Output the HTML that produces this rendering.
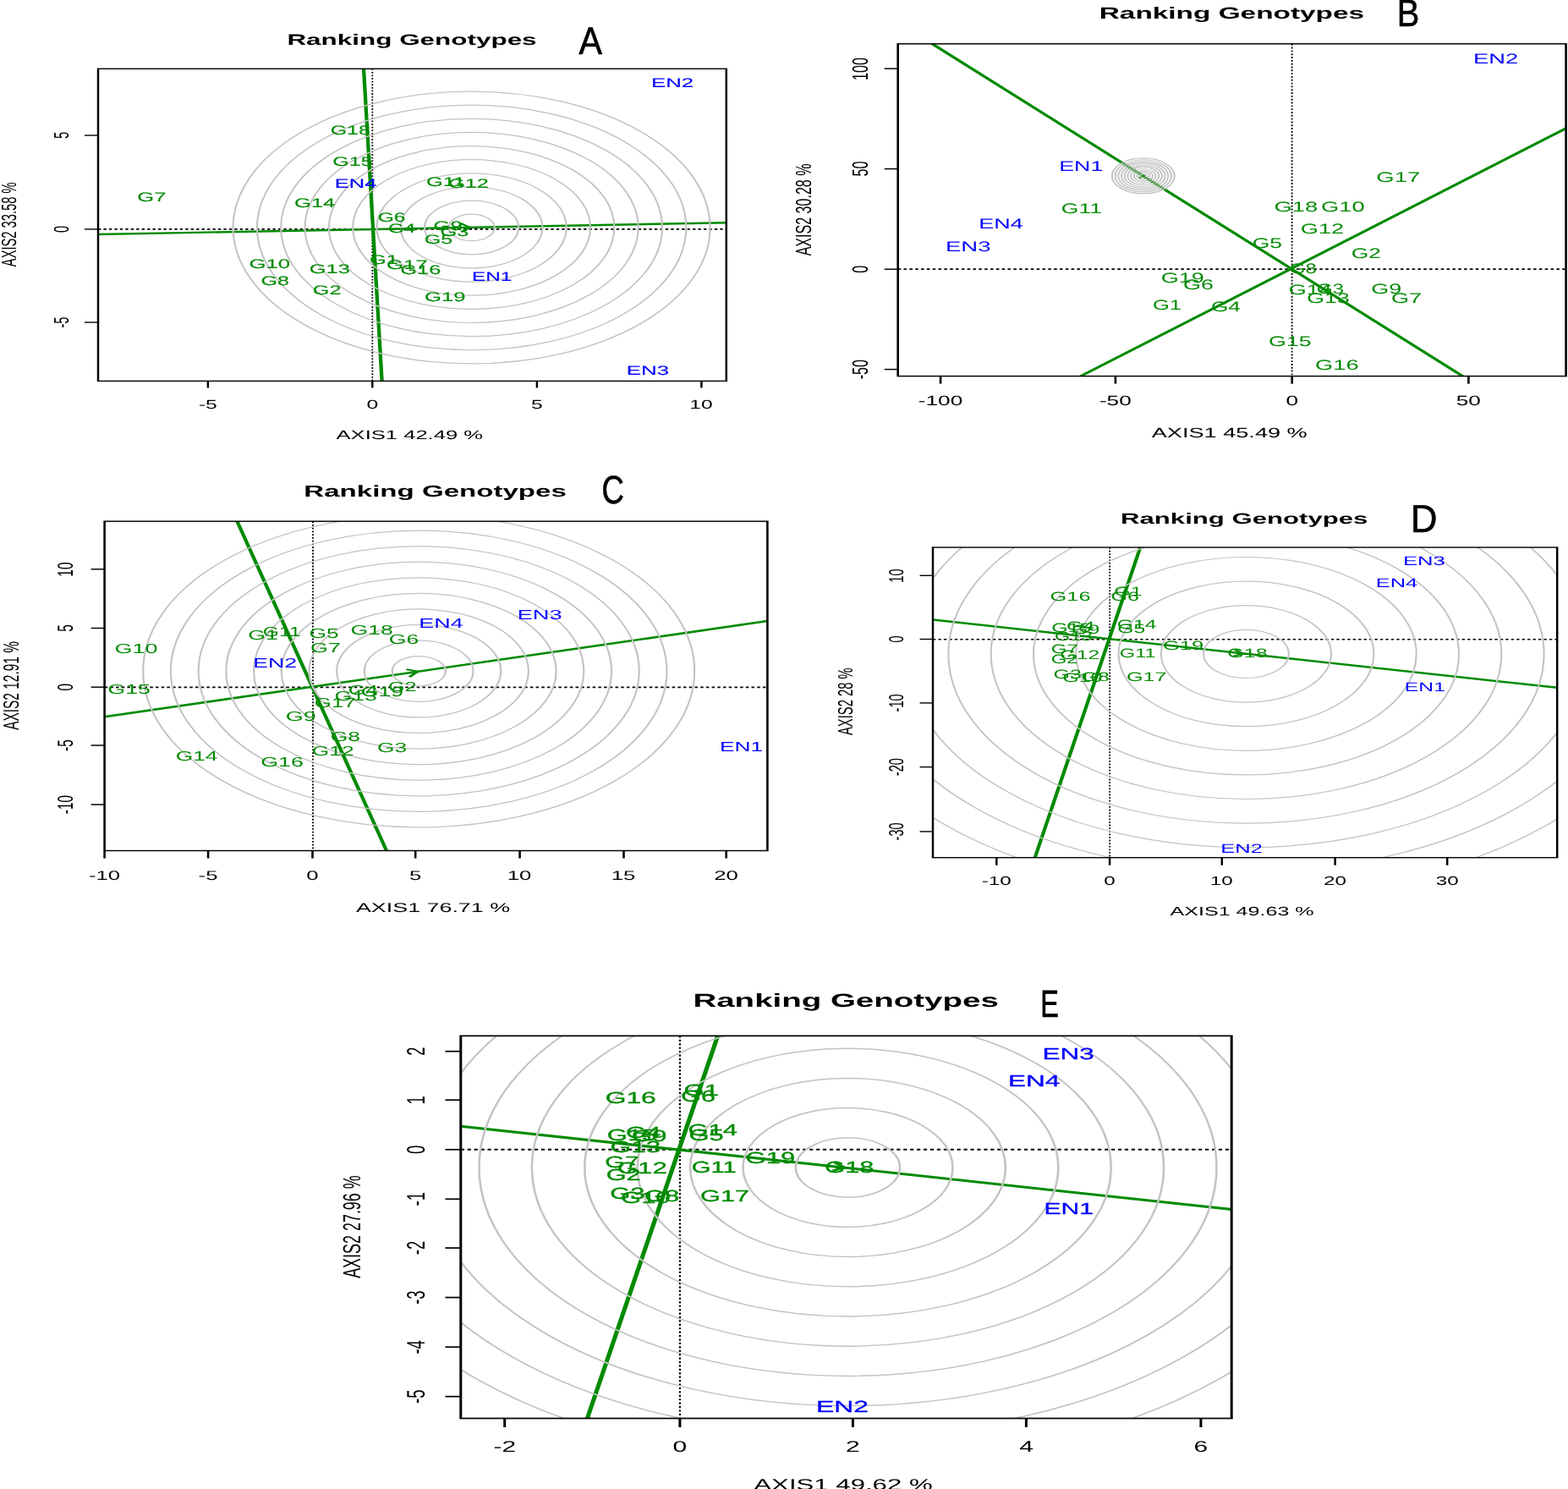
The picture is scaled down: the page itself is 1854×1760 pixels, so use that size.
<!DOCTYPE html>
<html><head><meta charset="utf-8"><title>Ranking Genotypes</title>
<style>html,body{margin:0;padding:0;background:#fff;} svg{display:block;} text{font-family:"Liberation Sans",Arial,sans-serif;text-rendering:geometricPrecision;}</style>
</head><body>
<svg width="1854" height="1760" viewBox="0 0 1854 1760">
<rect width="1854" height="1760" fill="#fff"/>
<clipPath id="cA"><rect x="66.286" y="81.3" width="424.457" height="369.09999999999997"/></clipPath>
<clipPath id="pA"><rect x="116.0" y="81.3" width="742.8" height="369.09999999999997"/></clipPath>
<g clip-path="url(#pA)">
<line x1="116.00" y1="270.90" x2="858.80" y2="270.90" stroke="#000" stroke-width="1.60" stroke-dasharray="3.40 3.05"/>
<line x1="440.30" y1="81.30" x2="440.30" y2="450.40" stroke="#000" stroke-width="1.75" stroke-dasharray="1.80 1.80"/>
</g>
<g transform="scale(1.75 1)">
<g clip-path="url(#cA)">
<line x1="66.286" y1="277.00" x2="490.743" y2="263.20" stroke="#008a00" stroke-width="2.45"/>
<line x1="245.714" y1="81.30" x2="258.057" y2="450.40" stroke="#008a00" stroke-width="2.45"/>
<polyline points="310.971,263.80 317.600,269.00 311.600,273.90" fill="none" stroke="#008a00" stroke-width="1.96" stroke-linejoin="round"/>
<ellipse cx="318.629" cy="268.95" rx="15.549" ry="15.75" fill="none" stroke="#c3c3c3" stroke-width="1.20"/>
<ellipse cx="318.629" cy="268.95" rx="31.726" ry="31.88" fill="none" stroke="#c3c3c3" stroke-width="1.20"/>
<ellipse cx="318.629" cy="268.95" rx="47.903" ry="48.01" fill="none" stroke="#c3c3c3" stroke-width="1.20"/>
<ellipse cx="318.629" cy="268.95" rx="64.080" ry="64.14" fill="none" stroke="#c3c3c3" stroke-width="1.20"/>
<ellipse cx="318.629" cy="268.95" rx="80.257" ry="80.27" fill="none" stroke="#c3c3c3" stroke-width="1.20"/>
<ellipse cx="318.629" cy="268.95" rx="96.434" ry="96.40" fill="none" stroke="#c3c3c3" stroke-width="1.20"/>
<ellipse cx="318.629" cy="268.95" rx="112.611" ry="112.53" fill="none" stroke="#c3c3c3" stroke-width="1.20"/>
<ellipse cx="318.629" cy="268.95" rx="128.789" ry="128.66" fill="none" stroke="#c3c3c3" stroke-width="1.20"/>
<ellipse cx="318.629" cy="268.95" rx="144.966" ry="144.79" fill="none" stroke="#c3c3c3" stroke-width="1.20"/>
<ellipse cx="318.629" cy="268.95" rx="161.143" ry="160.92" fill="none" stroke="#c3c3c3" stroke-width="1.20"/>
</g>
<rect x="66.286" y="81.3" width="424.457" height="369.10" fill="none" stroke="#000" stroke-width="1.40"/>
<line x1="140.514" y1="450.40" x2="140.514" y2="458.40" stroke="#000" stroke-width="1.40"/>
<line x1="251.600" y1="450.40" x2="251.600" y2="458.40" stroke="#000" stroke-width="1.40"/>
<line x1="362.800" y1="450.40" x2="362.800" y2="458.40" stroke="#000" stroke-width="1.40"/>
<line x1="473.943" y1="450.40" x2="473.943" y2="458.40" stroke="#000" stroke-width="1.40"/>
<line x1="57.143" y1="160.00" x2="66.286" y2="160.00" stroke="#000" stroke-width="1.40"/>
<line x1="57.143" y1="270.90" x2="66.286" y2="270.90" stroke="#000" stroke-width="1.40"/>
<line x1="57.143" y1="381.00" x2="66.286" y2="381.00" stroke="#000" stroke-width="1.40"/>
</g>
<text transform="translate(234.89 482.60) scale(1.6752 1)" font-size="14.744" fill="#000">-5</text>
<text transform="translate(433.43 482.60) scale(1.6752 1)" font-size="14.744" fill="#000">0</text>
<text transform="translate(628.06 482.60) scale(1.6752 1)" font-size="14.744" fill="#000">5</text>
<text transform="translate(815.20 482.60) scale(1.6752 1)" font-size="14.744" fill="#000">10</text>
<text transform="translate(81.00 164.09) scale(1.6752 1) rotate(-90)" font-size="14.74" fill="#000">5</text>
<text transform="translate(81.00 275.00) scale(1.6752 1) rotate(-90)" font-size="14.74" fill="#000">0</text>
<text transform="translate(81.00 387.57) scale(1.6752 1) rotate(-90)" font-size="14.74" fill="#000">-5</text>
<text transform="translate(397.55 518.80) scale(1.7357 1)" font-size="14.744" fill="#000">AXIS1 42.49 %</text>
<text transform="translate(19.00 315.13) scale(1.6752 1) rotate(-90)" font-size="14.69" fill="#000">AXIS2 33.58 %</text>
<text transform="translate(339.40 53.30) scale(1.7464 1)" font-size="18.0" fill="#000" font-weight="bold">Ranking Genotypes</text>
<text transform="translate(684.42 63.75) scale(0.9007 1)" font-size="45.71220930232559" fill="#000" stroke="#000" stroke-width="0.70">A</text>
<text transform="translate(162.32 238.40) scale(1.6802 1)" font-size="15.2" fill="#008a00" stroke="#008a00" stroke-width="0.12">G7</text>
<text transform="translate(390.64 159.40) scale(1.6444 1)" font-size="15.2" fill="#008a00" stroke="#008a00" stroke-width="0.12">G18</text>
<text transform="translate(393.34 196.10) scale(1.6467 1)" font-size="15.2" fill="#008a00" stroke="#008a00" stroke-width="0.12">G15</text>
<text transform="translate(395.81 221.60) scale(1.6752 1)" font-size="15.2" fill="#0000ff" stroke="#0000ff" stroke-width="0.12">EN4</text>
<text transform="translate(348.01 244.50) scale(1.6824 1)" font-size="15.2" fill="#008a00" stroke="#008a00" stroke-width="0.12">G14</text>
<text transform="translate(446.66 261.70) scale(1.6185 1)" font-size="15.2" fill="#008a00" stroke="#008a00" stroke-width="0.12">G6</text>
<text transform="translate(459.09 275.00) scale(1.5839 1)" font-size="15.2" fill="#008a00" stroke="#008a00" stroke-width="0.12">G4</text>
<text transform="translate(503.92 220.10) scale(1.6752 1)" font-size="15.2" fill="#008a00" stroke="#008a00" stroke-width="0.12">G11</text>
<text transform="translate(530.02 222.40) scale(1.6690 1)" font-size="15.2" fill="#008a00" stroke="#008a00" stroke-width="0.12">G12</text>
<text transform="translate(512.62 271.90) scale(1.6752 1)" font-size="15.2" fill="#008a00" stroke="#008a00" stroke-width="0.12">G9</text>
<text transform="translate(520.42 279.10) scale(1.6769 1)" font-size="15.2" fill="#008a00" stroke="#008a00" stroke-width="0.12">G3</text>
<text transform="translate(501.64 288.00) scale(1.6531 1)" font-size="15.2" fill="#008a00" stroke="#008a00" stroke-width="0.12">G5</text>
<text transform="translate(294.40 317.40) scale(1.6952 1)" font-size="15.2" fill="#008a00" stroke="#008a00" stroke-width="0.12">G10</text>
<text transform="translate(365.71 322.90) scale(1.6815 1)" font-size="15.2" fill="#008a00" stroke="#008a00" stroke-width="0.12">G13</text>
<text transform="translate(308.43 337.10) scale(1.6550 1)" font-size="15.2" fill="#008a00" stroke="#008a00" stroke-width="0.12">G8</text>
<text transform="translate(369.83 348.10) scale(1.6642 1)" font-size="15.2" fill="#008a00" stroke="#008a00" stroke-width="0.12">G2</text>
<text transform="translate(436.92 311.90) scale(1.6752 1)" font-size="15.2" fill="#008a00" stroke="#008a00" stroke-width="0.12">G1</text>
<text transform="translate(456.90 318.10) scale(1.6948 1)" font-size="15.2" fill="#008a00" stroke="#008a00" stroke-width="0.12">G17</text>
<text transform="translate(473.32 324.00) scale(1.6705 1)" font-size="15.2" fill="#008a00" stroke="#008a00" stroke-width="0.12">G16</text>
<text transform="translate(557.90 332.20) scale(1.6063 1)" font-size="15.2" fill="#0000ff" stroke="#0000ff" stroke-width="0.12">EN1</text>
<text transform="translate(502.01 356.00) scale(1.6920 1)" font-size="15.2" fill="#008a00" stroke="#008a00" stroke-width="0.12">G19</text>
<text transform="translate(769.98 102.90) scale(1.6983 1)" font-size="15.2" fill="#0000ff" stroke="#0000ff" stroke-width="0.12">EN2</text>
<text transform="translate(740.67 443.20) scale(1.7068 1)" font-size="15.2" fill="#0000ff" stroke="#0000ff" stroke-width="0.12">EN3</text>
<clipPath id="cB"><rect x="606.686" y="51.8" width="451.371" height="392.8"/></clipPath>
<clipPath id="pB"><rect x="1061.7" y="51.8" width="789.8999999999999" height="392.8"/></clipPath>
<g clip-path="url(#pB)">
<line x1="1061.70" y1="318.20" x2="1851.60" y2="318.20" stroke="#000" stroke-width="1.70" stroke-dasharray="3.60 3.23"/>
<line x1="1527.60" y1="51.80" x2="1527.60" y2="444.60" stroke="#000" stroke-width="1.85" stroke-dasharray="1.91 1.91"/>
</g>
<g transform="scale(1.75 1)">
<g clip-path="url(#cB)">
<line x1="629.886" y1="51.80" x2="988.229" y2="444.60" stroke="#008a00" stroke-width="2.60"/>
<line x1="730.114" y1="444.60" x2="1058.057" y2="151.80" stroke="#008a00" stroke-width="2.60"/>
<polyline points="769.143,204.00 772.571,208.00 769.429,210.50" fill="none" stroke="#008a00" stroke-width="2.08" stroke-linejoin="round"/>
<ellipse cx="772.457" cy="207.90" rx="2.109" ry="2.10" fill="none" stroke="#c3c3c3" stroke-width="1.17"/>
<ellipse cx="772.457" cy="207.90" rx="4.217" ry="4.20" fill="none" stroke="#c3c3c3" stroke-width="1.17"/>
<ellipse cx="772.457" cy="207.90" rx="6.326" ry="6.30" fill="none" stroke="#c3c3c3" stroke-width="1.17"/>
<ellipse cx="772.457" cy="207.90" rx="8.434" ry="8.40" fill="none" stroke="#c3c3c3" stroke-width="1.17"/>
<ellipse cx="772.457" cy="207.90" rx="10.543" ry="10.50" fill="none" stroke="#c3c3c3" stroke-width="1.17"/>
<ellipse cx="772.457" cy="207.90" rx="12.651" ry="12.60" fill="none" stroke="#c3c3c3" stroke-width="1.17"/>
<ellipse cx="772.457" cy="207.90" rx="14.760" ry="14.70" fill="none" stroke="#c3c3c3" stroke-width="1.17"/>
<ellipse cx="772.457" cy="207.90" rx="16.869" ry="16.80" fill="none" stroke="#c3c3c3" stroke-width="1.17"/>
<ellipse cx="772.457" cy="207.90" rx="18.977" ry="18.90" fill="none" stroke="#c3c3c3" stroke-width="1.17"/>
<ellipse cx="772.457" cy="207.90" rx="21.086" ry="21.00" fill="none" stroke="#c3c3c3" stroke-width="1.17"/>
</g>
<rect x="606.686" y="51.8" width="451.371" height="392.80" fill="none" stroke="#000" stroke-width="1.48"/>
<line x1="635.486" y1="444.60" x2="635.486" y2="453.60" stroke="#000" stroke-width="1.48"/>
<line x1="753.657" y1="444.60" x2="753.657" y2="453.60" stroke="#000" stroke-width="1.48"/>
<line x1="872.971" y1="444.60" x2="872.971" y2="453.60" stroke="#000" stroke-width="1.48"/>
<line x1="992.229" y1="444.60" x2="992.229" y2="453.60" stroke="#000" stroke-width="1.48"/>
<line x1="597.543" y1="81.10" x2="606.686" y2="81.10" stroke="#000" stroke-width="1.48"/>
<line x1="597.543" y1="199.60" x2="606.686" y2="199.60" stroke="#000" stroke-width="1.48"/>
<line x1="597.543" y1="318.20" x2="606.686" y2="318.20" stroke="#000" stroke-width="1.48"/>
<line x1="597.543" y1="436.60" x2="606.686" y2="436.60" stroke="#000" stroke-width="1.48"/>
</g>
<text transform="translate(1085.81 479.30) scale(1.6177 1)" font-size="16.198999999999998" fill="#000">-100</text>
<text transform="translate(1299.89 479.30) scale(1.6177 1)" font-size="16.198999999999998" fill="#000">-50</text>
<text transform="translate(1520.41 479.30) scale(1.6177 1)" font-size="16.198999999999998" fill="#000">0</text>
<text transform="translate(1721.81 479.30) scale(1.6177 1)" font-size="16.198999999999998" fill="#000">50</text>
<text transform="translate(1025.70 94.91) scale(1.6177 1) rotate(-90)" font-size="16.20" fill="#000">100</text>
<text transform="translate(1025.70 208.62) scale(1.6177 1) rotate(-90)" font-size="16.20" fill="#000">50</text>
<text transform="translate(1025.70 322.70) scale(1.6177 1) rotate(-90)" font-size="16.20" fill="#000">0</text>
<text transform="translate(1025.70 448.35) scale(1.6177 1) rotate(-90)" font-size="16.20" fill="#000">-50</text>
<text transform="translate(1361.75 516.60) scale(1.6759 1)" font-size="16.198999999999998" fill="#000">AXIS1 45.49 %</text>
<text transform="translate(959.00 302.33) scale(1.6177 1) rotate(-90)" font-size="16.06" fill="#000">AXIS2 30.28 %</text>
<text transform="translate(1299.77 22.00) scale(1.7388 1)" font-size="19.2" fill="#000" font-weight="bold">Ranking Genotypes</text>
<text transform="translate(1651.73 31.30) scale(0.8756 1)" font-size="45.49418604651163" fill="#000" stroke="#000" stroke-width="0.70">B</text>
<text transform="translate(1741.96 74.70) scale(1.6382 1)" font-size="16.7" fill="#0000ff">EN2</text>
<text transform="translate(1252.20 201.90) scale(1.6039 1)" font-size="16.7" fill="#0000ff">EN1</text>
<text transform="translate(1254.77 251.50) scale(1.5881 1)" font-size="16.7" fill="#008a00">G11</text>
<text transform="translate(1157.28 269.50) scale(1.6195 1)" font-size="16.7" fill="#0000ff">EN4</text>
<text transform="translate(1117.94 296.90) scale(1.6490 1)" font-size="16.7" fill="#0000ff">EN3</text>
<text transform="translate(1627.32 214.70) scale(1.6463 1)" font-size="16.7" fill="#008a00">G17</text>
<text transform="translate(1506.52 249.90) scale(1.6400 1)" font-size="16.7" fill="#008a00">G18</text>
<text transform="translate(1562.03 249.90) scale(1.6360 1)" font-size="16.7" fill="#008a00">G10</text>
<text transform="translate(1537.83 276.40) scale(1.6262 1)" font-size="16.7" fill="#008a00">G12</text>
<text transform="translate(1480.66 293.30) scale(1.5914 1)" font-size="16.7" fill="#008a00">G5</text>
<text transform="translate(1597.67 305.20) scale(1.5827 1)" font-size="16.7" fill="#008a00">G2</text>
<text transform="translate(1524.80 322.90) scale(1.4340 1)" font-size="16.7" fill="#008a00">G8</text>
<text transform="translate(1372.74 333.60) scale(1.6202 1)" font-size="16.7" fill="#008a00">G19</text>
<text transform="translate(1399.05 342.30) scale(1.6132 1)" font-size="16.7" fill="#008a00">G6</text>
<text transform="translate(1523.74 348.10) scale(1.6177 1)" font-size="16.7" fill="#008a00">G14</text>
<text transform="translate(1556.67 346.60) scale(1.4587 1)" font-size="16.7" fill="#008a00">G3</text>
<text transform="translate(1545.36 358.00) scale(1.5971 1)" font-size="16.7" fill="#008a00">G13</text>
<text transform="translate(1621.24 346.60) scale(1.6177 1)" font-size="16.7" fill="#008a00">G9</text>
<text transform="translate(1645.04 358.00) scale(1.6215 1)" font-size="16.7" fill="#008a00">G7</text>
<text transform="translate(1362.92 366.00) scale(1.5275 1)" font-size="16.7" fill="#008a00">G1</text>
<text transform="translate(1431.88 368.20) scale(1.5753 1)" font-size="16.7" fill="#008a00">G4</text>
<text transform="translate(1500.05 409.20) scale(1.6087 1)" font-size="16.7" fill="#008a00">G15</text>
<text transform="translate(1555.03 436.60) scale(1.6338 1)" font-size="16.7" fill="#008a00">G16</text>
<clipPath id="cC"><rect x="70.629" y="616.2" width="447.886" height="389.29999999999995"/></clipPath>
<clipPath id="pC"><rect x="123.6" y="616.2" width="783.8" height="389.29999999999995"/></clipPath>
<g clip-path="url(#pC)">
<line x1="123.60" y1="812.40" x2="907.40" y2="812.40" stroke="#000" stroke-width="1.66" stroke-dasharray="3.54 3.17"/>
<line x1="370.00" y1="616.20" x2="370.00" y2="1005.50" stroke="#000" stroke-width="1.82" stroke-dasharray="1.87 1.87"/>
</g>
<g transform="scale(1.75 1)">
<g clip-path="url(#cC)">
<line x1="70.629" y1="847.20" x2="518.514" y2="734.10" stroke="#008a00" stroke-width="2.55"/>
<line x1="160.229" y1="616.20" x2="261.143" y2="1005.50" stroke="#008a00" stroke-width="2.55"/>
<polyline points="274.571,791.10 282.286,793.70 276.514,800.20" fill="none" stroke="#008a00" stroke-width="2.04" stroke-linejoin="round"/>
<ellipse cx="282.971" cy="793.20" rx="18.057" ry="17.57" fill="none" stroke="#c3c3c3" stroke-width="1.25"/>
<ellipse cx="282.971" cy="793.20" rx="36.749" ry="36.14" fill="none" stroke="#c3c3c3" stroke-width="1.25"/>
<ellipse cx="282.971" cy="793.20" rx="55.440" ry="54.71" fill="none" stroke="#c3c3c3" stroke-width="1.25"/>
<ellipse cx="282.971" cy="793.20" rx="74.131" ry="73.28" fill="none" stroke="#c3c3c3" stroke-width="1.25"/>
<ellipse cx="282.971" cy="793.20" rx="92.823" ry="91.85" fill="none" stroke="#c3c3c3" stroke-width="1.25"/>
<ellipse cx="282.971" cy="793.20" rx="111.514" ry="110.42" fill="none" stroke="#c3c3c3" stroke-width="1.25"/>
<ellipse cx="282.971" cy="793.20" rx="130.206" ry="128.99" fill="none" stroke="#c3c3c3" stroke-width="1.25"/>
<ellipse cx="282.971" cy="793.20" rx="148.897" ry="147.56" fill="none" stroke="#c3c3c3" stroke-width="1.25"/>
<ellipse cx="282.971" cy="793.20" rx="167.589" ry="166.13" fill="none" stroke="#c3c3c3" stroke-width="1.25"/>
<ellipse cx="282.971" cy="793.20" rx="186.280" ry="184.70" fill="none" stroke="#c3c3c3" stroke-width="1.25"/>
</g>
<rect x="70.629" y="616.2" width="447.886" height="389.30" fill="none" stroke="#000" stroke-width="1.46"/>
<line x1="70.629" y1="1005.50" x2="70.629" y2="1014.50" stroke="#000" stroke-width="1.46"/>
<line x1="140.629" y1="1005.50" x2="140.629" y2="1014.50" stroke="#000" stroke-width="1.46"/>
<line x1="211.143" y1="1005.50" x2="211.143" y2="1014.50" stroke="#000" stroke-width="1.46"/>
<line x1="280.686" y1="1005.50" x2="280.686" y2="1014.50" stroke="#000" stroke-width="1.46"/>
<line x1="351.200" y1="1005.50" x2="351.200" y2="1014.50" stroke="#000" stroke-width="1.46"/>
<line x1="421.429" y1="1005.50" x2="421.429" y2="1014.50" stroke="#000" stroke-width="1.46"/>
<line x1="490.686" y1="1005.50" x2="490.686" y2="1014.50" stroke="#000" stroke-width="1.46"/>
<line x1="61.486" y1="672.80" x2="70.629" y2="672.80" stroke="#000" stroke-width="1.46"/>
<line x1="61.486" y1="742.50" x2="70.629" y2="742.50" stroke="#000" stroke-width="1.46"/>
<line x1="61.486" y1="812.20" x2="70.629" y2="812.20" stroke="#000" stroke-width="1.46"/>
<line x1="61.486" y1="881.00" x2="70.629" y2="881.00" stroke="#000" stroke-width="1.46"/>
<line x1="61.486" y1="951.00" x2="70.629" y2="951.00" stroke="#000" stroke-width="1.46"/>
</g>
<text transform="translate(104.91 1039.80) scale(1.6705 1)" font-size="15.423" fill="#000">-10</text>
<text transform="translate(234.61 1039.80) scale(1.6705 1)" font-size="15.423" fill="#000">-5</text>
<text transform="translate(362.34 1039.80) scale(1.6705 1)" font-size="15.423" fill="#000">0</text>
<text transform="translate(484.06 1039.80) scale(1.6705 1)" font-size="15.423" fill="#000">5</text>
<text transform="translate(599.79 1039.80) scale(1.6705 1)" font-size="15.423" fill="#000">10</text>
<text transform="translate(722.73 1039.80) scale(1.6705 1)" font-size="15.423" fill="#000">15</text>
<text transform="translate(844.23 1039.80) scale(1.6705 1)" font-size="15.423" fill="#000">20</text>
<text transform="translate(85.90 681.66) scale(1.6705 1) rotate(-90)" font-size="15.42" fill="#000">10</text>
<text transform="translate(85.90 746.77) scale(1.6705 1) rotate(-90)" font-size="15.42" fill="#000">5</text>
<text transform="translate(85.90 816.49) scale(1.6705 1) rotate(-90)" font-size="15.42" fill="#000">0</text>
<text transform="translate(85.90 887.88) scale(1.6705 1) rotate(-90)" font-size="15.42" fill="#000">-5</text>
<text transform="translate(85.90 962.19) scale(1.6705 1) rotate(-90)" font-size="15.42" fill="#000">-10</text>
<text transform="translate(420.95 1078.00) scale(1.7429 1)" font-size="15.423" fill="#000">AXIS1 76.71 %</text>
<text transform="translate(21.50 862.83) scale(1.6705 1) rotate(-90)" font-size="15.45" fill="#000">AXIS2 12.91 %</text>
<text transform="translate(359.29 586.70) scale(1.7406 1)" font-size="19.0" fill="#000" font-weight="bold">Ranking Genotypes</text>
<text transform="translate(711.55 594.60) scale(0.7818 1)" font-size="46.65697674418608" fill="#000" stroke="#000" stroke-width="0.70">C</text>
<text transform="translate(135.55 771.80) scale(1.6939 1)" font-size="15.9" fill="#008a00">G10</text>
<text transform="translate(293.36 756.00) scale(1.6705 1)" font-size="15.9" fill="#008a00">G1</text>
<text transform="translate(310.86 751.50) scale(1.5521 1)" font-size="15.9" fill="#008a00">G11</text>
<text transform="translate(365.57 754.10) scale(1.6613 1)" font-size="15.9" fill="#008a00">G5</text>
<text transform="translate(367.05 770.70) scale(1.6929 1)" font-size="15.9" fill="#008a00">G7</text>
<text transform="translate(299.31 789.40) scale(1.6790 1)" font-size="15.9" fill="#0000ff">EN2</text>
<text transform="translate(414.46 750.00) scale(1.6735 1)" font-size="15.9" fill="#008a00">G18</text>
<text transform="translate(459.77 761.00) scale(1.6690 1)" font-size="15.9" fill="#008a00">G6</text>
<text transform="translate(495.29 742.40) scale(1.6941 1)" font-size="15.9" fill="#0000ff">EN4</text>
<text transform="translate(611.66 731.80) scale(1.7146 1)" font-size="15.9" fill="#0000ff">EN3</text>
<text transform="translate(851.04 888.10) scale(1.6534 1)" font-size="15.9" fill="#0000ff">EN1</text>
<text transform="translate(127.35 819.50) scale(1.6861 1)" font-size="15.9" fill="#008a00">G15</text>
<text transform="translate(207.67 898.50) scale(1.6604 1)" font-size="15.9" fill="#008a00">G14</text>
<text transform="translate(308.15 905.60) scale(1.6915 1)" font-size="15.9" fill="#008a00">G16</text>
<text transform="translate(337.84 851.60) scale(1.6991 1)" font-size="15.9" fill="#008a00">G9</text>
<text transform="translate(371.80 836.40) scale(1.6272 1)" font-size="15.9" fill="#008a00">G17</text>
<text transform="translate(395.56 828.20) scale(1.6705 1)" font-size="15.9" fill="#008a00">G13</text>
<text transform="translate(411.66 820.90) scale(1.6705 1)" font-size="15.9" fill="#008a00">G4</text>
<text transform="translate(426.66 823.20) scale(1.6772 1)" font-size="15.9" fill="#008a00">G19</text>
<text transform="translate(458.93 817.20) scale(1.5909 1)" font-size="15.9" fill="#008a00">G2</text>
<text transform="translate(390.77 875.60) scale(1.6633 1)" font-size="15.9" fill="#008a00">G8</text>
<text transform="translate(368.77 893.10) scale(1.6588 1)" font-size="15.9" fill="#008a00">G12</text>
<text transform="translate(446.07 888.80) scale(1.6589 1)" font-size="15.9" fill="#008a00">G3</text>
<clipPath id="cD"><rect x="630.286" y="647.0" width="421.829" height="366.70000000000005"/></clipPath>
<clipPath id="pD"><rect x="1103.0" y="647.0" width="738.2" height="366.70000000000005"/></clipPath>
<g clip-path="url(#pD)">
<line x1="1103.00" y1="755.70" x2="1841.20" y2="755.70" stroke="#000" stroke-width="1.60" stroke-dasharray="3.40 3.05"/>
<line x1="1312.20" y1="647.00" x2="1312.20" y2="1013.70" stroke="#000" stroke-width="1.75" stroke-dasharray="1.80 1.80"/>
</g>
<g transform="scale(1.75 1)">
<g clip-path="url(#cD)">
<line x1="630.286" y1="732.50" x2="1052.114" y2="812.80" stroke="#008a00" stroke-width="2.45"/>
<line x1="770.457" y1="647.00" x2="699.257" y2="1013.70" stroke="#008a00" stroke-width="2.45"/>
<polyline points="834.286,767.80 840.000,772.80 833.143,775.70" fill="none" stroke="#008a00" stroke-width="1.96" stroke-linejoin="round"/>
<ellipse cx="842.000" cy="772.90" rx="28.743" ry="28.60" fill="none" stroke="#c3c3c3" stroke-width="1.20"/>
<ellipse cx="842.000" cy="772.90" rx="57.486" ry="57.20" fill="none" stroke="#c3c3c3" stroke-width="1.20"/>
<ellipse cx="842.000" cy="772.90" rx="86.229" ry="85.80" fill="none" stroke="#c3c3c3" stroke-width="1.20"/>
<ellipse cx="842.000" cy="772.90" rx="114.971" ry="114.40" fill="none" stroke="#c3c3c3" stroke-width="1.20"/>
<ellipse cx="842.000" cy="772.90" rx="143.714" ry="143.00" fill="none" stroke="#c3c3c3" stroke-width="1.20"/>
<ellipse cx="842.000" cy="772.90" rx="172.457" ry="171.60" fill="none" stroke="#c3c3c3" stroke-width="1.20"/>
<ellipse cx="842.000" cy="772.90" rx="201.200" ry="200.20" fill="none" stroke="#c3c3c3" stroke-width="1.20"/>
<ellipse cx="842.000" cy="772.90" rx="229.943" ry="228.80" fill="none" stroke="#c3c3c3" stroke-width="1.20"/>
<ellipse cx="842.000" cy="772.90" rx="258.686" ry="257.40" fill="none" stroke="#c3c3c3" stroke-width="1.20"/>
<ellipse cx="842.000" cy="772.90" rx="287.429" ry="286.00" fill="none" stroke="#c3c3c3" stroke-width="1.20"/>
</g>
<rect x="630.286" y="647.0" width="421.829" height="366.70" fill="none" stroke="#000" stroke-width="1.40"/>
<line x1="673.314" y1="1013.70" x2="673.314" y2="1022.70" stroke="#000" stroke-width="1.40"/>
<line x1="749.771" y1="1013.70" x2="749.771" y2="1022.70" stroke="#000" stroke-width="1.40"/>
<line x1="825.600" y1="1013.70" x2="825.600" y2="1022.70" stroke="#000" stroke-width="1.40"/>
<line x1="902.057" y1="1013.70" x2="902.057" y2="1022.70" stroke="#000" stroke-width="1.40"/>
<line x1="977.829" y1="1013.70" x2="977.829" y2="1022.70" stroke="#000" stroke-width="1.40"/>
<line x1="621.486" y1="680.30" x2="630.286" y2="680.30" stroke="#000" stroke-width="1.40"/>
<line x1="621.486" y1="755.50" x2="630.286" y2="755.50" stroke="#000" stroke-width="1.40"/>
<line x1="621.486" y1="830.90" x2="630.286" y2="830.90" stroke="#000" stroke-width="1.40"/>
<line x1="621.486" y1="906.60" x2="630.286" y2="906.60" stroke="#000" stroke-width="1.40"/>
<line x1="621.486" y1="982.90" x2="630.286" y2="982.90" stroke="#000" stroke-width="1.40"/>
</g>
<text transform="translate(1160.71 1046.30) scale(1.6663 1)" font-size="14.549999999999999" fill="#000">-10</text>
<text transform="translate(1305.36 1046.30) scale(1.6663 1)" font-size="14.549999999999999" fill="#000">0</text>
<text transform="translate(1430.87 1046.30) scale(1.6663 1)" font-size="14.549999999999999" fill="#000">10</text>
<text transform="translate(1564.98 1046.30) scale(1.6663 1)" font-size="14.549999999999999" fill="#000">20</text>
<text transform="translate(1697.73 1046.30) scale(1.6663 1)" font-size="14.549999999999999" fill="#000">30</text>
<text transform="translate(1068.40 688.66) scale(1.6663 1) rotate(-90)" font-size="14.55" fill="#000">10</text>
<text transform="translate(1068.40 759.55) scale(1.6663 1) rotate(-90)" font-size="14.55" fill="#000">0</text>
<text transform="translate(1068.40 841.45) scale(1.6663 1) rotate(-90)" font-size="14.55" fill="#000">-10</text>
<text transform="translate(1068.40 917.15) scale(1.6663 1) rotate(-90)" font-size="14.55" fill="#000">-20</text>
<text transform="translate(1068.40 993.45) scale(1.6663 1) rotate(-90)" font-size="14.55" fill="#000">-30</text>
<text transform="translate(1383.55 1081.80) scale(1.7242 1)" font-size="14.549999999999999" fill="#000">AXIS1 49.63 %</text>
<text transform="translate(1007.50 869.03) scale(1.6663 1) rotate(-90)" font-size="14.79" fill="#000">AXIS2 28 %</text>
<text transform="translate(1325.02 619.00) scale(1.7399 1)" font-size="17.9" fill="#000" font-weight="bold">Ranking Genotypes</text>
<text transform="translate(1668.03 629.20) scale(0.9454 1)" font-size="46.075581395348905" fill="#000" stroke="#000" stroke-width="0.70">D</text>
<text transform="translate(1241.62 710.10) scale(1.6927 1)" font-size="15.0" fill="#008a00">G16</text>
<text transform="translate(1317.34 704.30) scale(1.6663 1)" font-size="15.0" fill="#008a00">G1</text>
<text transform="translate(1313.54 709.60) scale(1.6670 1)" font-size="15.0" fill="#008a00">G6</text>
<text transform="translate(1320.76 742.60) scale(1.6459 1)" font-size="15.0" fill="#008a00">G14</text>
<text transform="translate(1321.26 747.50) scale(1.6429 1)" font-size="15.0" fill="#008a00">G5</text>
<text transform="translate(1323.81 776.50) scale(1.5708 1)" font-size="15.0" fill="#008a00">G11</text>
<text transform="translate(1331.93 805.30) scale(1.6801 1)" font-size="15.0" fill="#008a00">G17</text>
<text transform="translate(1374.91 768.10) scale(1.7034 1)" font-size="15.0" fill="#008a00">G19</text>
<text transform="translate(1451.34 777.10) scale(1.6663 1)" font-size="15.0" fill="#008a00">G18</text>
<text transform="translate(1243.14 746.50) scale(1.6663 1)" font-size="15.0" fill="#008a00">G15</text>
<text transform="translate(1261.04 744.80) scale(1.6663 1)" font-size="15.0" fill="#008a00">G4</text>
<text transform="translate(1267.04 748.50) scale(1.6663 1)" font-size="15.0" fill="#008a00">G9</text>
<text transform="translate(1247.12 757.40) scale(1.5665 1)" font-size="15.0" fill="#008a00">G13</text>
<text transform="translate(1242.69 771.80) scale(1.5999 1)" font-size="15.0" fill="#008a00">G7</text>
<text transform="translate(1253.35 779.10) scale(1.6615 1)" font-size="15.0" fill="#008a00">G12</text>
<text transform="translate(1242.69 784.40) scale(1.5999 1)" font-size="15.0" fill="#008a00">G2</text>
<text transform="translate(1245.54 802.30) scale(1.6663 1)" font-size="15.0" fill="#008a00">G3</text>
<text transform="translate(1256.24 805.70) scale(1.6663 1)" font-size="15.0" fill="#008a00">G10</text>
<text transform="translate(1278.54 805.30) scale(1.6663 1)" font-size="15.0" fill="#008a00">G8</text>
<text transform="translate(1659.00 668.40) scale(1.7076 1)" font-size="15.0" fill="#0000ff">EN3</text>
<text transform="translate(1626.82 694.40) scale(1.6939 1)" font-size="15.0" fill="#0000ff">EN4</text>
<text transform="translate(1660.77 817.00) scale(1.6497 1)" font-size="15.0" fill="#0000ff">EN1</text>
<text transform="translate(1443.21 1007.50) scale(1.7025 1)" font-size="15.0" fill="#0000ff">EN2</text>
<clipPath id="cE"><rect x="311.314" y="1224.4" width="520.800" height="452.0999999999999"/></clipPath>
<clipPath id="pE"><rect x="544.8" y="1224.4" width="911.4000000000001" height="452.0999999999999"/></clipPath>
<g clip-path="url(#pE)">
<line x1="544.80" y1="1358.70" x2="1456.20" y2="1358.70" stroke="#000" stroke-width="1.97" stroke-dasharray="4.18 3.75"/>
<line x1="803.90" y1="1224.40" x2="803.90" y2="1676.50" stroke="#000" stroke-width="2.15" stroke-dasharray="2.21 2.21"/>
</g>
<g transform="scale(1.75 1)">
<g clip-path="url(#cE)">
<line x1="311.314" y1="1331.20" x2="832.114" y2="1429.60" stroke="#008a00" stroke-width="3.01"/>
<line x1="484.971" y1="1224.40" x2="396.800" y2="1676.50" stroke="#008a00" stroke-width="3.01"/>
<polyline points="563.886,1374.10 570.914,1380.20 562.400,1383.80" fill="none" stroke="#008a00" stroke-width="2.41" stroke-linejoin="round"/>
<ellipse cx="572.857" cy="1380.00" rx="35.200" ry="35.20" fill="none" stroke="#c3c3c3" stroke-width="1.48"/>
<ellipse cx="572.857" cy="1380.00" rx="70.857" ry="70.40" fill="none" stroke="#c3c3c3" stroke-width="1.48"/>
<ellipse cx="572.857" cy="1380.00" rx="106.514" ry="105.60" fill="none" stroke="#c3c3c3" stroke-width="1.48"/>
<ellipse cx="572.857" cy="1380.00" rx="142.171" ry="140.80" fill="none" stroke="#c3c3c3" stroke-width="1.48"/>
<ellipse cx="572.857" cy="1380.00" rx="177.829" ry="176.00" fill="none" stroke="#c3c3c3" stroke-width="1.48"/>
<ellipse cx="572.857" cy="1380.00" rx="213.486" ry="211.20" fill="none" stroke="#c3c3c3" stroke-width="1.48"/>
<ellipse cx="572.857" cy="1380.00" rx="249.143" ry="246.40" fill="none" stroke="#c3c3c3" stroke-width="1.48"/>
<ellipse cx="572.857" cy="1380.00" rx="284.800" ry="281.60" fill="none" stroke="#c3c3c3" stroke-width="1.48"/>
<ellipse cx="572.857" cy="1380.00" rx="320.457" ry="316.80" fill="none" stroke="#c3c3c3" stroke-width="1.48"/>
<ellipse cx="572.857" cy="1380.00" rx="356.114" ry="352.00" fill="none" stroke="#c3c3c3" stroke-width="1.48"/>
</g>
<rect x="311.314" y="1224.4" width="520.800" height="452.10" fill="none" stroke="#000" stroke-width="1.72"/>
<line x1="340.971" y1="1676.50" x2="340.971" y2="1687.00" stroke="#000" stroke-width="1.72"/>
<line x1="459.371" y1="1676.50" x2="459.371" y2="1687.00" stroke="#000" stroke-width="1.72"/>
<line x1="576.229" y1="1676.50" x2="576.229" y2="1687.00" stroke="#000" stroke-width="1.72"/>
<line x1="693.371" y1="1676.50" x2="693.371" y2="1687.00" stroke="#000" stroke-width="1.72"/>
<line x1="811.371" y1="1676.50" x2="811.371" y2="1687.00" stroke="#000" stroke-width="1.72"/>
<line x1="300.800" y1="1242.70" x2="311.314" y2="1242.70" stroke="#000" stroke-width="1.72"/>
<line x1="300.800" y1="1300.20" x2="311.314" y2="1300.20" stroke="#000" stroke-width="1.72"/>
<line x1="300.800" y1="1358.80" x2="311.314" y2="1358.80" stroke="#000" stroke-width="1.72"/>
<line x1="300.800" y1="1417.30" x2="311.314" y2="1417.30" stroke="#000" stroke-width="1.72"/>
<line x1="300.800" y1="1475.10" x2="311.314" y2="1475.10" stroke="#000" stroke-width="1.72"/>
<line x1="300.800" y1="1533.60" x2="311.314" y2="1533.60" stroke="#000" stroke-width="1.72"/>
<line x1="300.800" y1="1592.20" x2="311.314" y2="1592.20" stroke="#000" stroke-width="1.72"/>
<line x1="300.800" y1="1650.70" x2="311.314" y2="1650.70" stroke="#000" stroke-width="1.72"/>
</g>
<text transform="translate(583.43 1715.60) scale(1.6308 1)" font-size="18.43" fill="#000">-2</text>
<text transform="translate(795.54 1715.60) scale(1.6308 1)" font-size="18.43" fill="#000">0</text>
<text transform="translate(1000.04 1715.60) scale(1.6308 1)" font-size="18.43" fill="#000">2</text>
<text transform="translate(1205.14 1715.60) scale(1.6308 1)" font-size="18.43" fill="#000">4</text>
<text transform="translate(1411.44 1715.60) scale(1.6308 1)" font-size="18.43" fill="#000">6</text>
<text transform="translate(502.20 1247.82) scale(1.6308 1) rotate(-90)" font-size="18.43" fill="#000">2</text>
<text transform="translate(502.20 1305.58) scale(1.6308 1) rotate(-90)" font-size="18.43" fill="#000">1</text>
<text transform="translate(502.20 1363.92) scale(1.6308 1) rotate(-90)" font-size="18.43" fill="#000">0</text>
<text transform="translate(502.20 1425.45) scale(1.6308 1) rotate(-90)" font-size="18.43" fill="#000">-1</text>
<text transform="translate(502.20 1483.24) scale(1.6308 1) rotate(-90)" font-size="18.43" fill="#000">-2</text>
<text transform="translate(502.20 1541.80) scale(1.6308 1) rotate(-90)" font-size="18.43" fill="#000">-3</text>
<text transform="translate(502.20 1600.53) scale(1.6308 1) rotate(-90)" font-size="18.43" fill="#000">-4</text>
<text transform="translate(502.20 1658.92) scale(1.6308 1) rotate(-90)" font-size="18.43" fill="#000">-5</text>
<text transform="translate(891.34 1760.50) scale(1.6910 1)" font-size="18.43" fill="#000">AXIS1 49.62 %</text>
<text transform="translate(425.90 1510.84) scale(1.6308 1) rotate(-90)" font-size="17.93" fill="#000">AXIS2 27.96 %</text>
<text transform="translate(819.43 1190.00) scale(1.7417 1)" font-size="22.1" fill="#000" font-weight="bold">Ranking Genotypes</text>
<text transform="translate(1230.24 1201.60) scale(0.7184 1)" font-size="45.20348837209289" fill="#000" stroke="#000" stroke-width="0.70">E</text>
<text transform="translate(715.70 1304.30) scale(1.6705 1)" font-size="19.0" fill="#008a00" stroke="#008a00" stroke-width="0.3">G16</text>
<text transform="translate(808.54 1295.30) scale(1.6308 1)" font-size="19.0" fill="#008a00" stroke="#008a00" stroke-width="0.3">G1</text>
<text transform="translate(805.37 1302.40) scale(1.6005 1)" font-size="19.0" fill="#008a00" stroke="#008a00" stroke-width="0.3">G6</text>
<text transform="translate(813.44 1342.40) scale(1.6308 1)" font-size="19.0" fill="#008a00" stroke="#008a00" stroke-width="0.3">G14</text>
<text transform="translate(814.45 1347.80) scale(1.6234 1)" font-size="19.0" fill="#008a00" stroke="#008a00" stroke-width="0.3">G5</text>
<text transform="translate(717.84 1348.30) scale(1.6308 1)" font-size="19.0" fill="#008a00" stroke="#008a00" stroke-width="0.3">G15</text>
<text transform="translate(740.04 1344.80) scale(1.6308 1)" font-size="19.0" fill="#008a00" stroke="#008a00" stroke-width="0.3">G4</text>
<text transform="translate(747.03 1349.30) scale(1.6308 1)" font-size="19.0" fill="#008a00" stroke="#008a00" stroke-width="0.3">G9</text>
<text transform="translate(721.61 1362.30) scale(1.6617 1)" font-size="19.0" fill="#008a00" stroke="#008a00" stroke-width="0.3">G13</text>
<text transform="translate(715.18 1379.60) scale(1.5917 1)" font-size="19.0" fill="#008a00" stroke="#008a00" stroke-width="0.3">G7</text>
<text transform="translate(729.72 1387.20) scale(1.6499 1)" font-size="19.0" fill="#008a00" stroke="#008a00" stroke-width="0.3">G12</text>
<text transform="translate(716.76 1395.30) scale(1.6130 1)" font-size="19.0" fill="#008a00" stroke="#008a00" stroke-width="0.3">G2</text>
<text transform="translate(721.14 1416.80) scale(1.6308 1)" font-size="19.0" fill="#008a00" stroke="#008a00" stroke-width="0.3">G3</text>
<text transform="translate(734.04 1421.70) scale(1.6308 1)" font-size="19.0" fill="#008a00" stroke="#008a00" stroke-width="0.3">G10</text>
<text transform="translate(762.01 1420.10) scale(1.6308 1)" font-size="19.0" fill="#008a00" stroke="#008a00" stroke-width="0.3">G8</text>
<text transform="translate(817.83 1385.60) scale(1.5369 1)" font-size="19.0" fill="#008a00" stroke="#008a00" stroke-width="0.3">G11</text>
<text transform="translate(827.95 1420.10) scale(1.6205 1)" font-size="19.0" fill="#008a00" stroke="#008a00" stroke-width="0.3">G17</text>
<text transform="translate(881.54 1374.70) scale(1.6355 1)" font-size="19.0" fill="#008a00" stroke="#008a00" stroke-width="0.3">G19</text>
<text transform="translate(975.25 1386.40) scale(1.6173 1)" font-size="19.0" fill="#008a00" stroke="#008a00" stroke-width="0.3">G18</text>
<text transform="translate(1232.52 1251.50) scale(1.6576 1)" font-size="19.0" fill="#0000ff" stroke="#0000ff" stroke-width="0.3">EN3</text>
<text transform="translate(1191.91 1283.60) scale(1.6587 1)" font-size="19.0" fill="#0000ff" stroke="#0000ff" stroke-width="0.3">EN4</text>
<text transform="translate(1234.43 1434.90) scale(1.5838 1)" font-size="19.0" fill="#0000ff" stroke="#0000ff" stroke-width="0.3">EN1</text>
<text transform="translate(964.98 1669.10) scale(1.6780 1)" font-size="19.0" fill="#0000ff" stroke="#0000ff" stroke-width="0.3">EN2</text>
</svg>
</body></html>
